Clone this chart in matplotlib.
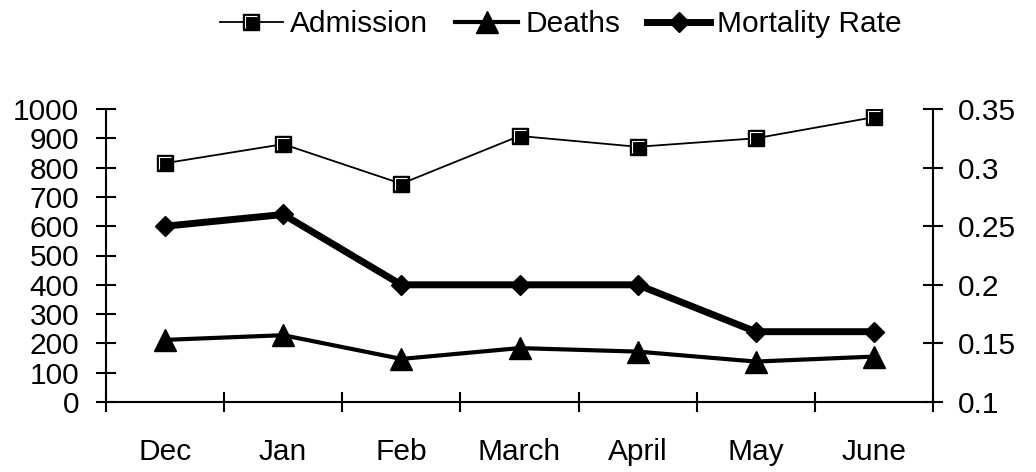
import matplotlib
matplotlib.use("Agg")
import matplotlib.pyplot as plt
from matplotlib.path import Path
import numpy as np

months = ["Dec", "Jan", "Feb", "March", "April", "May", "June"]
admission = [815, 880, 745, 908, 871, 900, 972]
deaths = [212, 228, 147, 184, 172, 138, 155]
mortality = [0.25, 0.26, 0.20, 0.20, 0.20, 0.16, 0.16]
left_ticks = list(range(0, 1001, 100))
right_ticks = [0.1, 0.15, 0.2, 0.25, 0.3, 0.35]
right_labels = ["0.1", "0.15", "0.2", "0.25", "0.3", "0.35"]

plt.rcParams['font.family'] = ['Liberation Sans', 'DejaVu Sans']
fs = 21.5

fig = plt.figure(figsize=(10.36, 4.72), dpi=100)
ax = fig.add_axes([106/1036, 1-402/472, (933-106)/1036, (402-109)/472])
ax2 = ax.twinx()

x = np.arange(len(months))
l1, = ax.plot(x, admission, color='black', lw=1.3, marker='s', ms=12,
              mfc='black', mec='black', mew=1.0, label='Admission')
# white highlight inside square markers (Excel style)
hl_path = Path([(-1, -1), (-1, 1), (1, 1)], [Path.MOVETO, Path.LINETO, Path.LINETO])
l1h, = ax.plot(x, admission, ls='none', marker=hl_path, ms=8.5,
               mfc='none', mec='white', mew=0.8)
l2, = ax.plot(x, deaths, color='black', lw=3.0, marker='^', ms=16,
              mfc='black', mec='black', label='Deaths')
l3, = ax2.plot(x, mortality, color='black', lw=5.0, marker='D', ms=10.5,
               mfc='black', mec='black', label='Mortality Rate')

ax.set_xlim(-0.5, len(months) - 0.5)
ax.set_ylim(0, 1000)
ax2.set_ylim(0.1, 0.35)

ax.set_yticks(left_ticks)
ax.set_yticklabels([str(v) for v in left_ticks], fontsize=fs)
ax2.set_yticks(right_ticks)
ax2.set_yticklabels(right_labels, fontsize=fs)

ax.set_xticks(np.arange(len(months) + 1) - 0.5)
ax.set_xticklabels([])
ax.set_xticks(x, minor=True)
ax.set_xticklabels(months, minor=True, fontsize=fs)
ax.tick_params(axis='x', which='major', direction='inout', length=15, width=1.5)
ax.tick_params(axis='x', which='minor', length=0, pad=26)
ax.tick_params(axis='y', direction='inout', length=14.5, width=1.5, pad=12)
ax2.tick_params(axis='y', direction='inout', length=14.5, width=1.5, pad=11)

for a in (ax, ax2):
    a.spines['top'].set_visible(False)
    for s in ('left', 'right', 'bottom'):
        a.spines[s].set_linewidth(1.5)
ax.spines['right'].set_visible(False)
ax2.spines['left'].set_visible(False)
ax2.spines['bottom'].set_visible(False)

fig.legend(handles=[(l1, l1h), l2, l3], labels=['Admission', 'Deaths', 'Mortality Rate'],
           loc='center', bbox_to_anchor=(561/1036, 1-24/472),
           ncol=3, frameon=False, fontsize=fs, handlelength=2.1, handletextpad=0.25,
           columnspacing=0.9, markerscale=1.0, borderaxespad=0, borderpad=0)

fig.savefig("out.png", dpi=100)
